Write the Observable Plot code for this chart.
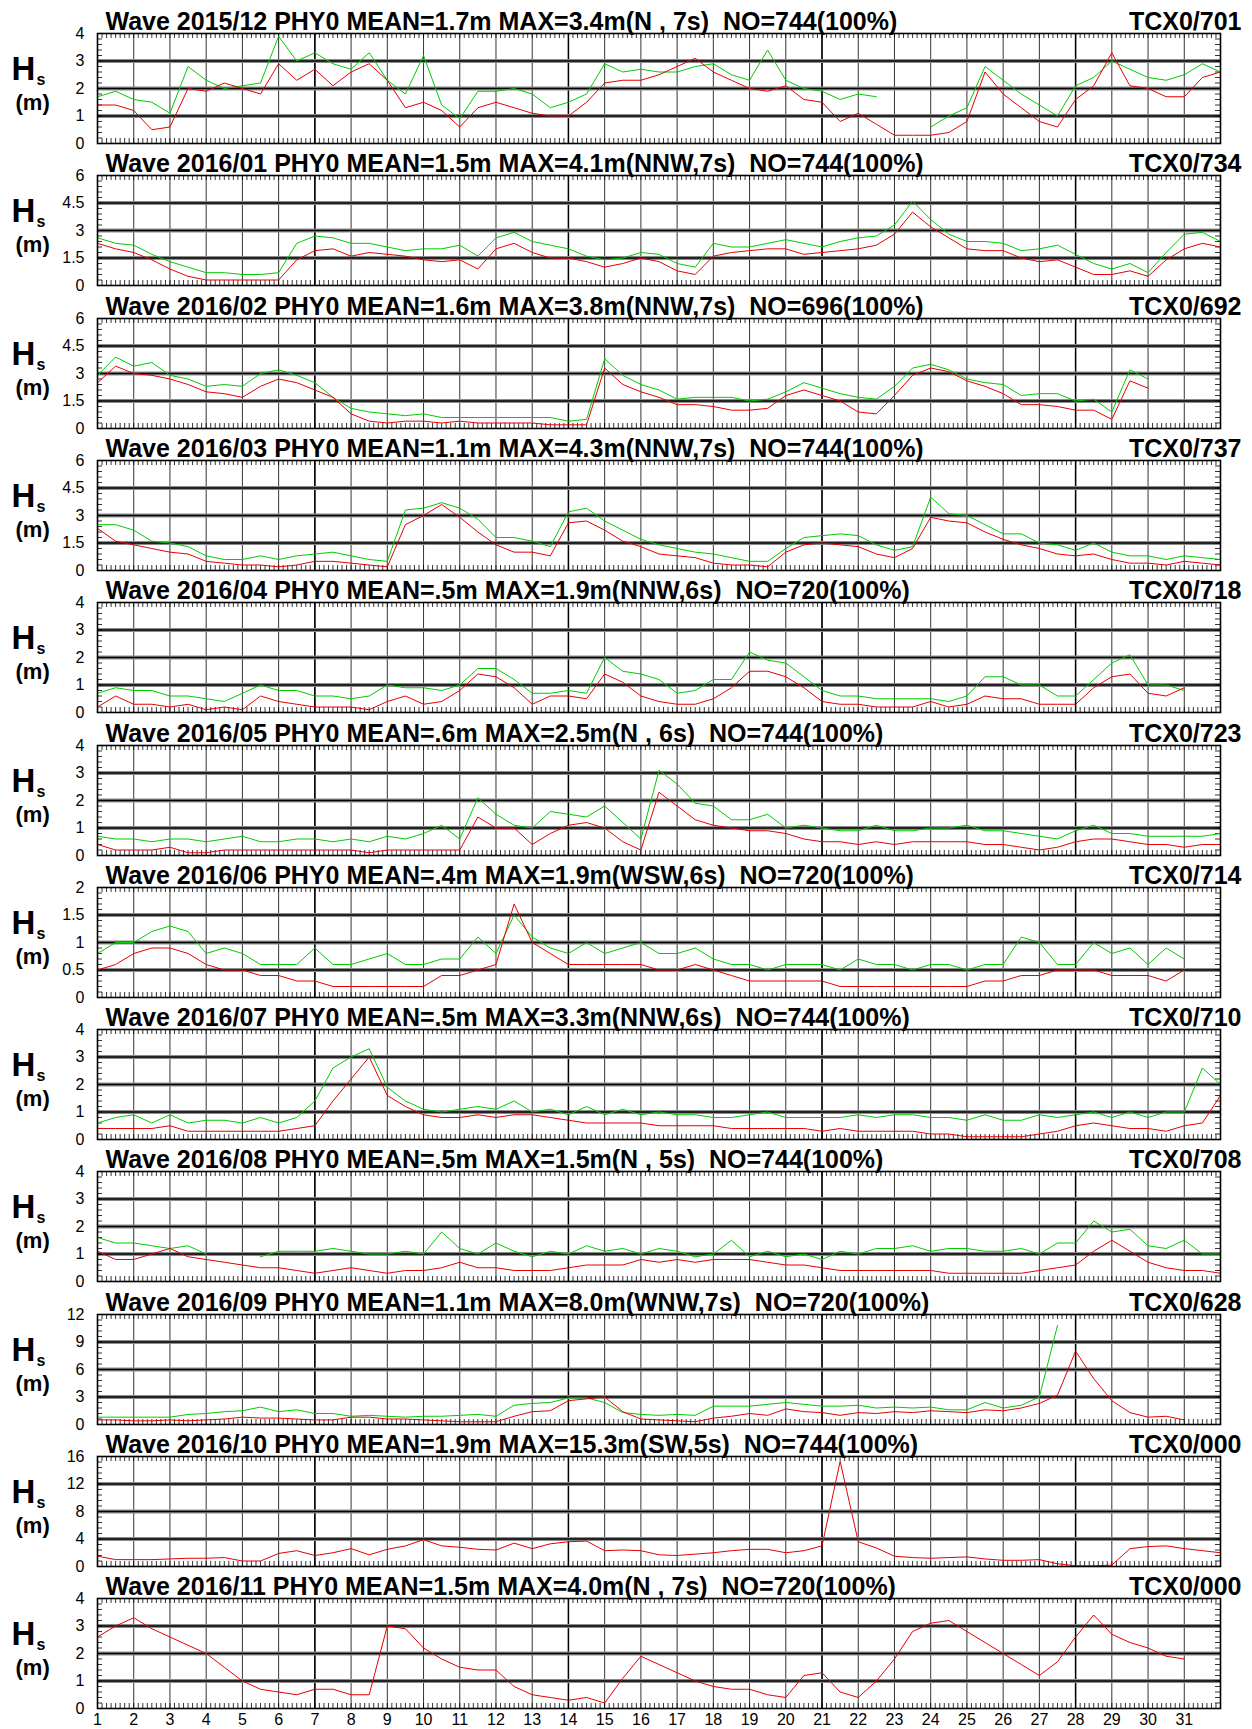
<!DOCTYPE html>
<html><head><meta charset="utf-8">
<script src="https://cdn.jsdelivr.net/npm/d3@7"></script>
<script src="https://cdn.jsdelivr.net/npm/@observablehq/plot@0.6"></script>
<style>
body{margin:0;background:#fff;}
#wrap{position:relative;width:1252px;height:1729px;overflow:hidden;background:#fff;}
#wrap svg text{white-space:pre;}
</style></head><body><div id="wrap"></div>
<script>
// ---------- labels ----------
const titles = [
  "Wave 2015/12 PHY0 MEAN=1.7m MAX=3.4m(N , 7s)  NO=744(100%)",
  "Wave 2016/01 PHY0 MEAN=1.5m MAX=4.1m(NNW,7s)  NO=744(100%)",
  "Wave 2016/02 PHY0 MEAN=1.6m MAX=3.8m(NNW,7s)  NO=696(100%)",
  "Wave 2016/03 PHY0 MEAN=1.1m MAX=4.3m(NNW,7s)  NO=744(100%)",
  "Wave 2016/04 PHY0 MEAN=.5m MAX=1.9m(NNW,6s)  NO=720(100%)",
  "Wave 2016/05 PHY0 MEAN=.6m MAX=2.5m(N , 6s)  NO=744(100%)",
  "Wave 2016/06 PHY0 MEAN=.4m MAX=1.9m(WSW,6s)  NO=720(100%)",
  "Wave 2016/07 PHY0 MEAN=.5m MAX=3.3m(NNW,6s)  NO=744(100%)",
  "Wave 2016/08 PHY0 MEAN=.5m MAX=1.5m(N , 5s)  NO=744(100%)",
  "Wave 2016/09 PHY0 MEAN=1.1m MAX=8.0m(WNW,7s)  NO=720(100%)",
  "Wave 2016/10 PHY0 MEAN=1.9m MAX=15.3m(SW,5s)  NO=744(100%)",
  "Wave 2016/11 PHY0 MEAN=1.5m MAX=4.0m(N , 7s)  NO=720(100%)"
];
const stations = ["TCX0/701","TCX0/734","TCX0/692","TCX0/737","TCX0/718","TCX0/723","TCX0/714","TCX0/710","TCX0/708","TCX0/628","TCX0/000","TCX0/000"];
const yMax  = [4, 6, 6, 6, 4, 4, 2, 4, 4, 12, 16, 4];
const yStep = [1, 1.5, 1.5, 1.5, 1, 1, 0.5, 1, 1, 3, 4, 1];
const dayLabels = d3.range(1, 32);
const weekLines = [7, 14, 21, 28];
// samples every half day starting at day 1
const T0 = 1, DT = 0.5;

// ---------- data (Hs, m) ----------
const green1512 = [1.7,1.9,1.6,1.5,1.1,2.8,2.3,2.0,2.1,2.2, 3.9,3.0,3.3,2.9,2.7,3.3,2.3,1.8,3.2,1.4, 0.9,1.9,1.9,2.0,1.8,1.3,1.5,1.8,2.9,2.6, 2.7,2.6,2.6,2.8,2.9,2.5,2.3,3.4,2.3,2.0, 1.9,1.6,1.8,1.7,null,null,0.6,1.0,1.3,2.8, 2.3,1.8,1.4,1.0,2.1,2.4,3.0,2.7,2.4,2.3, 2.5,2.9,2.6];
const red1512   = [1.4,1.4,1.2,0.5,0.6,2.0,1.9,2.2,2.0,1.8, 2.9,2.3,2.7,2.1,2.6,2.9,2.3,1.3,1.5,1.2, 0.6,1.3,1.5,1.3,1.1,1.0,1.0,1.5,2.2,2.3, 2.3,2.5,2.8,3.1,2.6,2.3,2.0,1.9,2.1,1.6, 1.5,0.8,1.1,0.7,0.3,0.3,0.3,0.4,0.8,2.6, 1.8,1.3,0.8,0.6,1.6,2.1,3.3,2.1,2.0,1.7, 1.7,2.4,2.6];
const green1601 = [2.6,2.3,2.2,1.7,1.3,1.0,0.7,0.7,0.6,0.6, 0.7,2.3,2.7,2.6,2.3,2.3,2.1,1.9,2.0,2.0, 2.2,1.6,2.6,2.9,2.4,2.2,2.0,1.6,1.4,1.5, 1.8,1.7,1.2,1.0,2.3,2.1,2.1,2.3,2.5,2.3, 2.1,2.4,2.6,2.7,3.3,4.6,3.6,2.8,2.4,2.4, 2.3,1.9,2.0,2.2,1.7,1.2,0.9,1.2,0.7,1.8, 2.8,2.9,2.4];
const red1601   = [2.3,2.0,1.8,1.4,0.9,0.5,0.3,0.3,0.3,0.3, 0.3,1.4,1.9,2.0,1.6,1.8,1.7,1.6,1.4,1.3, 1.4,0.9,2.0,2.3,1.8,1.5,1.5,1.3,1.0,1.2, 1.5,1.3,0.8,0.6,1.6,1.8,1.9,2.0,2.0,1.7, 1.8,1.9,2.0,2.2,2.8,4.0,3.2,2.6,2.0,1.9, 1.9,1.5,1.3,1.4,1.0,0.6,0.6,0.8,0.5,1.4, 2.0,2.3,2.1];
const green1602 = [2.9,3.9,3.4,3.6,2.9,2.7,2.3,2.4,2.3,3.0, 3.2,2.9,2.5,1.7,1.1,0.9,0.8,0.7,0.8,0.6, 0.6,0.6,0.6,0.6,0.6,0.6,0.4,0.5,3.8,2.9, 2.4,2.1,1.6,1.7,1.7,1.7,1.5,1.6,2.0,2.5, 2.2,1.9,1.7,1.6,2.3,3.3,3.5,3.2,2.7,2.5, 2.4,1.8,1.9,1.9,1.5,1.6,0.9,3.2,2.7];
const red1602   = [2.5,3.4,3.0,2.9,2.7,2.4,2.0,1.9,1.7,2.3, 2.7,2.5,2.1,1.7,0.8,0.4,0.3,0.4,0.4,0.3, 0.4,0.3,0.3,0.3,0.3,0.2,0.2,0.2,3.3,2.4, 2.0,1.7,1.3,1.3,1.2,1.0,1.0,1.1,1.8,2.1, 1.8,1.5,0.9,0.8,1.8,2.9,3.3,3.1,2.6,2.3, 1.9,1.3,1.3,1.2,1.0,1.0,0.5,2.6,2.2];
const green1603 = [2.5,2.5,2.2,1.6,1.5,1.3,0.8,0.6,0.6,0.8, 0.6,0.8,0.9,1.0,0.8,0.6,0.5,3.3,3.4,3.7, 3.4,2.8,1.8,1.8,1.6,1.3,3.2,3.4,2.7,2.2, 1.7,1.4,1.2,1.0,0.9,0.7,0.5,0.5,1.2,1.8, 1.9,2.0,1.9,1.4,1.1,1.3,4.0,3.1,3.0,2.5, 2.0,2.0,1.5,1.4,1.1,1.5,1.0,0.8,0.8,0.6, 0.8,0.7,0.6];
const red1603   = [2.3,1.6,1.4,1.2,1.0,0.9,0.5,0.4,0.3,0.3, 0.2,0.3,0.5,0.5,0.4,0.3,0.2,2.5,3.0,3.6, 2.9,2.1,1.4,1.0,1.0,0.8,2.6,2.7,2.2,1.6, 1.3,0.9,0.8,0.7,0.4,0.3,0.3,0.2,1.0,1.4, 1.5,1.4,1.3,0.9,0.7,1.2,2.9,2.7,2.6,2.1, 1.7,1.4,1.2,0.9,0.8,0.9,0.6,0.4,0.4,0.3, 0.5,0.4,0.3];
const green1604 = [0.7,0.9,0.8,0.8,0.6,0.6,0.5,0.4,0.7,1.0, 0.8,0.8,0.6,0.6,0.5,0.6,1.0,0.9,0.9,0.8, 1.0,1.6,1.6,1.2,0.7,0.7,0.8,0.7,2.0,1.5, 1.4,1.2,0.7,0.8,1.2,1.2,2.2,1.9,1.8,1.3, 0.8,0.6,0.6,0.5,0.5,0.5,0.5,0.4,0.6,1.3, 1.3,1.0,1.0,0.6,0.6,1.2,1.8,2.1,1.0,1.0, 0.8];
const red1604   = [0.2,0.6,0.3,0.3,0.2,0.3,0.1,0.2,0.1,0.6, 0.4,0.3,0.2,0.2,0.2,0.1,0.4,0.6,0.3,0.4, 0.8,1.4,1.3,0.9,0.3,0.6,0.6,0.5,1.4,1.1, 0.6,0.4,0.3,0.3,0.5,0.9,1.5,1.5,1.3,0.9, 0.4,0.3,0.3,0.2,0.2,0.2,0.4,0.2,0.3,0.6, 0.5,0.5,0.3,0.3,0.3,0.9,1.3,1.4,0.7,0.6, 0.9];
const green1605 = [0.7,0.6,0.6,0.5,0.6,0.6,0.5,0.6,0.7,0.5, 0.5,0.6,0.6,0.5,0.6,0.5,0.7,0.6,0.8,1.1, 0.6,2.1,1.5,1.1,1.0,1.6,1.5,1.4,1.8,1.2, 0.6,3.1,2.6,1.9,1.8,1.3,1.3,1.5,1.0,1.1, 1.0,0.9,0.9,1.1,0.9,0.9,1.0,1.0,1.1,0.9, 0.9,0.8,0.7,0.6,0.9,1.1,0.8,0.8,0.7,0.7, 0.7,0.7,0.8];
const red1605   = [0.4,0.2,0.2,0.2,0.3,0.1,0.1,0.2,0.2,0.2, 0.2,0.2,0.2,0.2,0.2,0.1,0.2,0.2,0.2,0.2, 0.2,1.4,1.0,1.0,0.4,0.8,1.1,1.2,1.0,0.5, 0.2,2.3,1.8,1.3,1.1,1.0,0.9,0.9,0.8,0.6, 0.5,0.5,0.4,0.5,0.4,0.5,0.5,0.5,0.5,0.4, 0.4,0.3,0.2,0.3,0.5,0.6,0.6,0.5,0.4,0.4, 0.3,0.4,0.4];
const green1606 = [0.8,1.0,1.0,1.2,1.3,1.2,0.8,0.9,0.8,0.6, 0.6,0.6,0.9,0.6,0.6,0.7,0.8,0.6,0.6,0.7, 0.7,1.1,0.8,1.5,1.1,0.9,0.8,1.0,0.8,0.9, 1.0,0.8,0.8,0.9,0.7,0.6,0.6,0.5,0.6,0.6, 0.6,0.5,0.7,0.6,0.6,0.5,0.6,0.6,0.5,0.6, 0.6,1.1,1.0,0.6,0.6,1.0,0.8,0.9,0.6,0.9, 0.7];
const red1606   = [0.5,0.6,0.8,0.9,0.9,0.8,0.6,0.5,0.5,0.4, 0.4,0.3,0.3,0.2,0.2,0.2,0.2,0.2,0.2,0.4, 0.4,0.5,0.6,1.7,1.0,0.8,0.6,0.6,0.6,0.6, 0.6,0.5,0.5,0.6,0.5,0.4,0.3,0.3,0.3,0.3, 0.3,0.2,0.2,0.2,0.2,0.2,0.2,0.2,0.2,0.3, 0.3,0.4,0.4,0.5,0.5,0.5,0.4,0.4,0.4,0.3, 0.5];
const green1607 = [0.6,0.8,0.9,0.6,0.9,0.6,0.7,0.7,0.6,0.8, 0.6,0.8,1.4,2.6,3.0,3.3,1.9,1.4,1.1,1.0, 1.1,1.2,1.1,1.4,1.0,1.1,0.9,1.2,0.9,1.1, 0.9,1.0,0.9,0.9,0.8,0.8,0.9,1.0,0.8,0.8, 0.8,0.8,0.9,0.8,0.9,0.9,0.8,0.8,0.7,0.9, 0.7,0.7,0.9,0.8,0.9,1.0,0.8,1.0,0.8,1.0, 1.0,2.6,2.0];
const red1607   = [0.4,0.4,0.4,0.4,0.5,0.3,0.3,0.3,0.3,0.3, 0.3,0.4,0.5,1.4,2.2,3.0,1.6,1.2,0.9,0.8, 0.8,0.9,0.8,0.9,0.9,0.8,0.7,0.6,0.6,0.6, 0.6,0.5,0.5,0.5,0.5,0.4,0.4,0.4,0.4,0.4, 0.3,0.4,0.3,0.3,0.3,0.3,0.2,0.2,0.1,0.1, 0.1,0.1,0.2,0.3,0.5,0.6,0.5,0.4,0.4,0.3, 0.5,0.6,1.6];
const green1608 = [1.6,1.4,1.4,1.3,1.2,1.3,1.0,null,null,0.9, 1.1,1.1,1.1,1.2,1.1,1.0,1.0,1.1,1.0,1.8, 1.2,1.0,1.4,1.1,0.9,1.1,1.0,1.3,1.1,1.2, 1.0,1.2,1.1,0.9,1.0,1.5,0.9,1.1,0.9,1.0, 0.8,1.1,1.0,1.2,1.2,1.3,1.1,1.2,1.2,1.1, 1.1,1.2,1.0,1.4,1.4,2.2,1.8,1.9,1.3,1.2, 1.5,1.0,1.0];
const red1608   = [1.1,0.8,0.8,1.0,1.2,0.9,0.8,0.7,0.6,0.5, 0.5,0.4,0.3,0.4,0.5,0.4,0.3,0.4,0.4,0.5, 0.7,0.5,0.5,0.4,0.4,0.4,0.5,0.6,0.6,0.6, 0.8,0.7,0.8,0.7,0.8,0.8,0.8,0.7,0.6,0.6, 0.5,0.4,0.4,0.4,0.4,0.4,0.4,0.3,0.3,0.3, 0.3,0.3,0.4,0.5,0.6,1.1,1.5,1.1,0.7,0.5, 0.4,0.4,0.3];
const green1609 = [0.8,0.8,0.8,0.8,0.8,1.1,1.2,1.4,1.5,1.9, 1.4,1.6,1.2,1.2,0.9,1.0,0.9,0.8,0.9,0.9, 1.0,1.1,0.9,2.1,2.3,2.4,2.9,2.9,2.4,1.3, 1.1,1.0,1.1,1.0,2.0,2.0,2.0,2.2,2.4,2.2, 2.0,2.0,2.1,1.8,1.9,1.8,1.9,1.6,1.6,2.4, 1.8,2.1,3.0,10.8,null,null,null,null,null,null, null];
const red1609   = [0.5,0.5,0.4,0.4,0.5,0.4,0.5,0.6,0.8,0.7, 0.7,0.6,0.5,0.5,0.8,0.8,0.6,0.6,0.5,0.4, 0.3,0.3,0.3,0.9,1.4,1.5,2.6,2.8,3.0,1.4, 0.6,0.5,0.4,0.3,0.7,0.9,1.2,1.0,1.7,1.4, 1.3,1.0,1.3,1.2,1.4,1.3,1.5,1.4,1.3,1.6, 1.5,1.8,2.3,3.2,8.0,5.0,2.6,1.3,0.8,0.9, 0.5];
const red1610   = [1.5,1.0,1.0,1.0,1.1,1.2,1.2,1.3,0.8,0.8, 1.9,2.3,1.6,2.0,2.6,1.7,2.5,3.0,3.9,3.0, 2.8,2.5,2.4,3.4,2.6,3.3,3.6,3.7,2.3,2.4, 2.3,1.7,1.6,1.8,2.0,2.3,2.5,2.5,2.0,2.3, 3.0,15.3,3.6,2.7,1.5,1.3,1.2,1.3,1.4,1.1, 0.9,0.9,1.0,0.4,0.1,0.1,0.2,2.6,2.9,3.0, 2.6,2.3,2.0];
const red1611   = [2.6,3.0,3.3,2.9,2.6,2.3,2.0,1.5,1.0,0.7, 0.6,0.5,0.7,0.7,0.5,0.5,3.0,2.9,2.2,1.8, 1.5,1.4,1.4,0.8,0.5,0.4,0.3,0.4,0.2,1.1, 1.9,1.6,1.3,1.0,0.8,0.7,0.7,0.5,0.4,1.2, 1.3,0.6,0.4,1.0,1.8,2.8,3.1,3.2,2.8,2.4, 2.0,1.6,1.2,1.7,2.6,3.4,2.7,2.4,2.2,1.9, 1.8];

const greens = [green1512, green1601, green1602, green1603, green1604, green1605, green1606, green1607, green1608, green1609, null, null];
const reds   = [red1512, red1601, red1602, red1603, red1604, red1605, red1606, red1607, red1608, red1609, red1610, red1611];

// ---------- layout ----------
const W = 1252, ML = 97, MR = 32, MT = 33, FH = 110, PITCH = 142.3;
const FONT = "'Liberation Sans', Arial, Helvetica, sans-serif";
const wrap = document.getElementById("wrap");

function series(arr) { return arr.map((v, k) => ({t: T0 + k * DT, v})); }

for (let i = 0; i < 12; i++) {
  const last = i === 11;
  const ym = yMax[i], ys = yStep[i];
  const yt = d3.range(0, ym + ys / 2, ys);
  const minorY = d3.range(0, ym + 1e-9, ys / 5);
  const minorX = d3.range(1, 32 + 1e-9, 1 / 8);
  const tY = ym * 5 / FH;
  const tX = 31 * 5 / (W - ML - MR);
  const marks = [
    Plot.ruleX(d3.range(2, 32), {stroke: "#000", strokeWidth: 0.8}),
    Plot.ruleX(weekLines, {stroke: "#000", strokeWidth: 1.5}),
    Plot.ruleY(yt.slice(1, -1), {stroke: "#8c8c8c", strokeWidth: 4}),
    Plot.ruleY(yt.slice(1, -1), {stroke: "#000", strokeWidth: 1.3}),
    Plot.ruleX(minorX, {y1: 0, y2: tY, stroke: "#000", strokeWidth: 0.8}),
    Plot.ruleX(minorX, {y1: ym - tY, y2: ym, stroke: "#000", strokeWidth: 0.8}),
    Plot.ruleY(minorY, {x1: 1, x2: 1 + tX, stroke: "#000", strokeWidth: 0.8}),
    Plot.ruleY(minorY, {x1: 32 - tX, x2: 32, stroke: "#000", strokeWidth: 0.8})
  ];
  if (greens[i]) marks.push(Plot.line(series(greens[i]), {x: "t", y: "v", stroke: "#00cc00", strokeWidth: 1}));
  marks.push(Plot.line(series(reds[i]), {x: "t", y: "v", stroke: "#e60000", strokeWidth: 1}));
  marks.push(Plot.frame({stroke: "#000", strokeWidth: 1.6}));
  marks.push(Plot.text([titles[i]], {text: d => d, frameAnchor: "top-left", textAnchor: "start", lineAnchor: "bottom", dx: 8, dy: -4, fontSize: 25, fontWeight: "bold", fill: "#000"}));
  marks.push(Plot.text([stations[i]], {text: d => d, frameAnchor: "top-right", textAnchor: "end", lineAnchor: "bottom", dx: 21, dy: -4, fontSize: 25, fontWeight: "bold", fill: "#000"}));
  marks.push(Plot.text(["H"], {text: d => d, frameAnchor: "top-left", textAnchor: "start", lineAnchor: "bottom", dx: -86, dy: 46, fontSize: 33, fontWeight: "bold", fill: "#000"}));
  marks.push(Plot.text(["s"], {text: d => d, frameAnchor: "top-left", textAnchor: "start", lineAnchor: "bottom", dx: -61, dy: 51, fontSize: 16, fontWeight: "bold", fill: "#000"}));
  marks.push(Plot.text(["(m)"], {text: d => d, frameAnchor: "top-left", textAnchor: "start", lineAnchor: "bottom", dx: -82, dy: 76, fontSize: 22, fontWeight: "bold", fill: "#000"}));

  const svg = Plot.plot({
    width: W,
    height: last ? 164 : 143,
    marginLeft: ML, marginRight: MR, marginTop: MT, marginBottom: last ? 21 : 0,
    x: {domain: [1, 32], axis: last ? "bottom" : null, ticks: dayLabels, tickSize: 0, tickPadding: 5, tickFormat: d => String(d), label: null},
    y: {domain: [0, ym], ticks: yt, tickSize: 0, tickPadding: 13, tickFormat: d => String(+d.toFixed(2)), label: null},
    style: {fontFamily: FONT, fontSize: "16px", color: "#000", background: "transparent", overflow: "visible",
            position: "absolute", left: "0px", top: (i * PITCH) + "px"},
    marks
  });
  wrap.appendChild(svg);
}
</script>
</body></html>
